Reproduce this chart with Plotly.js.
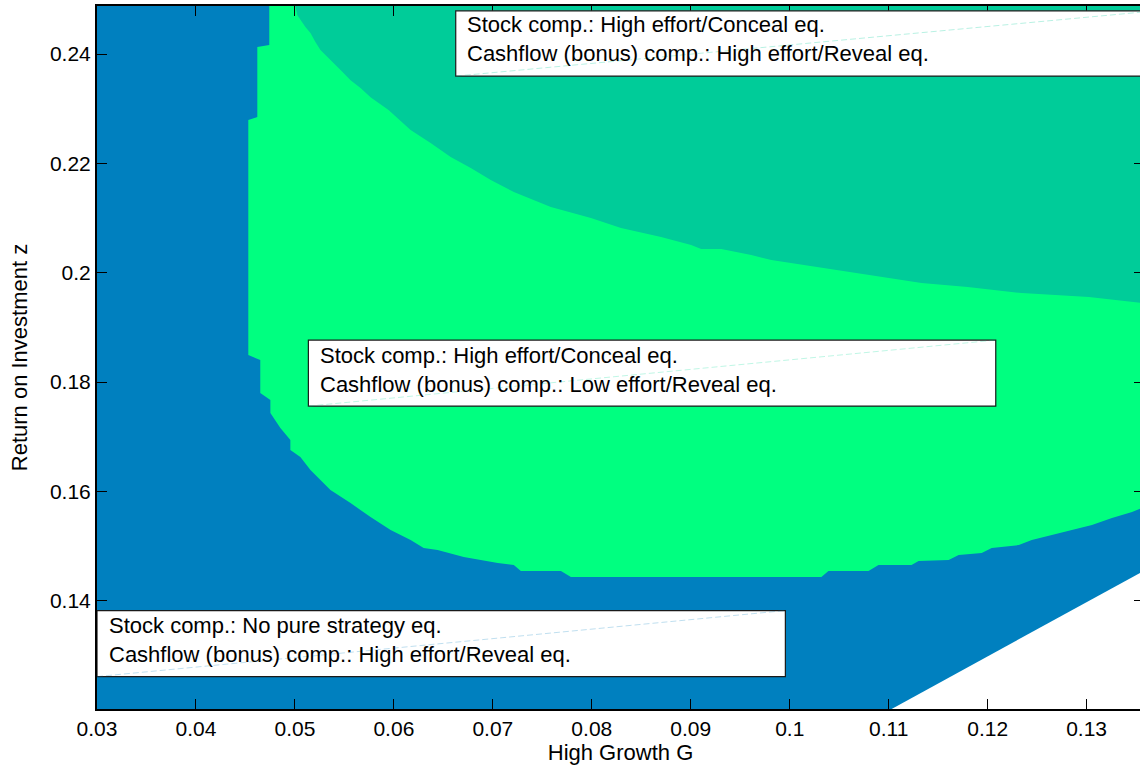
<!DOCTYPE html>
<html>
<head>
<meta charset="utf-8">
<script src="https://cdn.plot.ly/plotly-3.0.1.min.js"></script>
<style>
html, body { margin:0; padding:0; overflow:hidden; background:#fff; }
#chart { width:1146px; height:765px; }
</style>
</head>
<body>
<div id="chart"></div>
<script>
// Axis limits (High Growth G, Return on Investment z)
const gLimits = [0.03, 0.1358];
const zLimits = [0.1202, 0.2488];

// Tick values and labels
const xTickVals = [0.03, 0.04, 0.05, 0.06, 0.07, 0.08, 0.09, 0.10, 0.11, 0.12, 0.13];
const xTickText = ['0.03','0.04','0.05','0.06','0.07','0.08','0.09','0.1','0.11','0.12','0.13'];
const yTickVals = [0.14, 0.16, 0.18, 0.20, 0.22, 0.24];
const yTickText = ['0.14','0.16','0.18','0.2','0.22','0.24'];

// Region 1 (blue): whole feasible region; white triangle at lower right is infeasible
const blueG = [0.03, 0.1103, 0.1358, 0.1358, 0.03];
const blueZ = [0.1202, 0.1202, 0.1455, 0.2488, 0.2488];

// Region 2 (green): Stock High effort/Conceal, Cashflow Low effort/Reveal
const greenG = [0.04741, 0.1358, 0.1358,
  0.13459, 0.13256, 0.13054, 0.12851, 0.12649, 0.12446, 0.12315, 0.12041, 0.11940, 0.11707,
  0.11606, 0.11302, 0.11231, 0.10897, 0.10796, 0.10391, 0.10320, 0.07789, 0.07688, 0.07283,
  0.07212, 0.07050, 0.06706, 0.06442, 0.06301, 0.06169, 0.05967, 0.05764, 0.05562, 0.05359,
  0.05258, 0.05157, 0.05055, 0.04954, 0.04954, 0.04853, 0.04752, 0.04752, 0.04650, 0.04650,
  0.04529, 0.04529, 0.04620, 0.04620, 0.04741];
const greenZ = [0.2488, 0.2488, 0.15714,
  0.15622, 0.15513, 0.15385, 0.15293, 0.15202, 0.15110, 0.15019, 0.14964, 0.14872, 0.14836,
  0.14744, 0.14726, 0.14653, 0.14653, 0.14543, 0.14543, 0.14434, 0.14434, 0.14543, 0.14543,
  0.14653, 0.14690, 0.14799, 0.14927, 0.14964, 0.15110, 0.15293, 0.15531, 0.15787, 0.16025,
  0.16208, 0.16391, 0.16628, 0.16756, 0.16939, 0.17159, 0.17433, 0.17671, 0.17799, 0.18403,
  0.18494, 0.22793, 0.22848, 0.24128, 0.24165];

// Region 3 (teal): Stock High effort/Conceal, Cashflow High effort/Reveal
const tealG = [0.05005, 0.1358, 0.1358,
  0.13023, 0.12345, 0.11798, 0.11332, 0.10927, 0.10523, 0.10118, 0.09814, 0.09611, 0.09308,
  0.09105, 0.09004, 0.08700, 0.08295, 0.07991, 0.07586, 0.07212, 0.06979, 0.06777, 0.06574,
  0.06371, 0.06169, 0.05946, 0.05764, 0.05663, 0.05562, 0.05481, 0.05410, 0.05339, 0.05258,
  0.05207, 0.05157, 0.05106, 0.05055, 0.05025];
const tealZ = [0.2488, 0.2488, 0.19445,
  0.19555, 0.19628, 0.19738, 0.19811, 0.19921, 0.20031, 0.20140, 0.20232, 0.20323, 0.20433,
  0.20433, 0.20506, 0.20653, 0.20817, 0.21000, 0.21201, 0.21476, 0.21695, 0.21915, 0.22116,
  0.22372, 0.22610, 0.22976, 0.23213, 0.23378, 0.23524, 0.23671, 0.23799, 0.23945, 0.24073,
  0.24220, 0.24384, 0.24494, 0.24622, 0.24713];

// Label texts
const labelTeal = ['Stock comp.: High effort/Conceal eq.', 'Cashflow (bonus) comp.: High effort/Reveal eq.'];
const labelGreen = ['Stock comp.: High effort/Conceal eq.', 'Cashflow (bonus) comp.: Low effort/Reveal eq.'];
const labelBlue = ['Stock comp.: No pure strategy eq.', 'Cashflow (bonus) comp.: High effort/Reveal eq.'];

const BLUE = '#0080bf', GREEN = '#00ff80', TEAL = '#00cc99';
const FONT = 'Liberation Sans, Arial, Helvetica, sans-serif';

function region(x, y, color) {
  return { type:'scatter', mode:'lines', x:x, y:y, fill:'toself', fillcolor:color,
    line:{width:0, color:color}, hoverinfo:'skip', showlegend:false };
}

const traces = [ region(blueG, blueZ, BLUE), region(greenG, greenZ, GREEN), region(tealG, tealZ, TEAL) ];

// Text boxes
const boxes = [
  {x0:0.06625, x1:0.1370, y0:0.23598, y1:0.24792, tx:0.06730, ty:0.24271, lines:labelTeal, dash:'rgba(0,204,153,0.28)'},
  {x0:0.05136, x1:0.12082, y0:0.17561, y1:0.18769, tx:0.05240, ty:0.18229, lines:labelGreen, dash:'rgba(0,220,150,0.25)'},
  {x0:0.0300, x1:0.09956, y0:0.12613, y1:0.13821, tx:0.03115, ty:0.13287, lines:labelBlue, dash:'rgba(0,128,191,0.25)'}
];

const shapes = [];
const annotations = [];
boxes.forEach(b => {
  shapes.push({type:'rect', xref:'x', yref:'y', x0:b.x0, x1:b.x1, y0:b.y0, y1:b.y1,
    fillcolor:'#ffffff', line:{color:'#1a1a1a', width:1.2}, layer:'above'});
  shapes.push({type:'line', xref:'x', yref:'y', x0:b.x0, x1:b.x1, y0:b.y0, y1:b.y1,
    line:{color:b.dash, width:1, dash:'6px,3px'}, layer:'above'});
  annotations.push({xref:'x', yref:'y', x:b.tx, y:b.ty, text:b.lines.join('<br>'), showarrow:false,
    align:'left', xanchor:'left', yanchor:'middle', borderpad:0,
    font:{family:FONT, size:22, color:'#000'}});
});

const axisCommon = {
  showgrid:false, zeroline:false, showline:true, linecolor:'#000', linewidth:2,
  mirror:'ticks', ticks:'inside', ticklen:10, tickwidth:1, tickcolor:'#000',
  tickfont:{family:FONT, size:21, color:'#000'}
};

const layout = {
  width:1146, height:765,
  margin:{l:97, r:0, t:6, b:56},
  paper_bgcolor:'#ffffff', plot_bgcolor:'#ffffff',
  showlegend:false, hovermode:false,
  xaxis: Object.assign({}, axisCommon, {
    range:gLimits, tickmode:'array', tickvals:xTickVals, ticktext:xTickText,
    title:{text:'High Growth G', font:{family:FONT, size:22, color:'#000'}}
  }),
  yaxis: Object.assign({}, axisCommon, {
    range:zLimits, tickmode:'array', tickvals:yTickVals, ticktext:yTickText,
    automargin:true,
    title:{text:'Return on Investment z', font:{family:FONT, size:22, color:'#000'}, standoff:16}
  }),
  shapes:shapes,
  annotations:annotations
};

Plotly.newPlot('chart', traces, layout, {displayModeBar:false, staticPlot:true});
</script>
</body>
</html>
